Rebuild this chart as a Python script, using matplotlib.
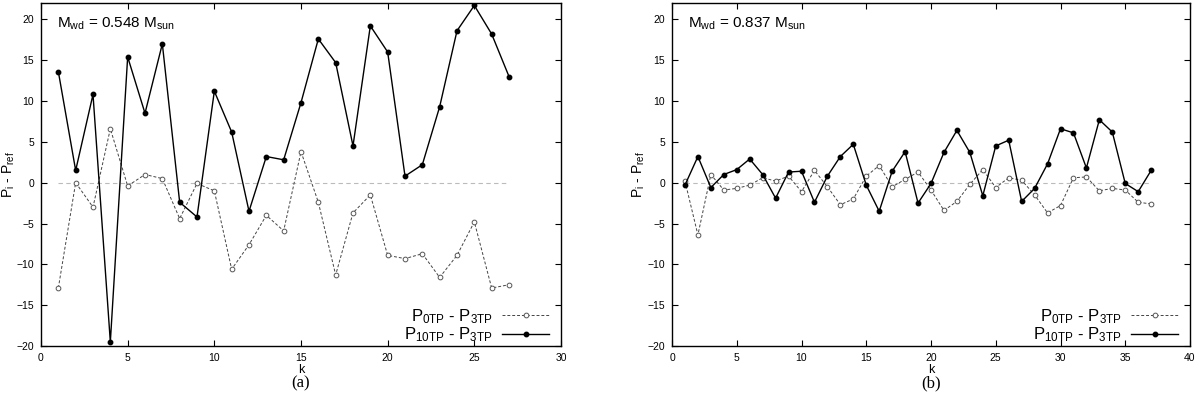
import matplotlib
matplotlib.use("Agg")
import matplotlib.pyplot as plt

plt.rcParams['font.family'] = ['Liberation Sans', 'DejaVu Sans']
plt.rcParams['mathtext.fontset'] = 'custom'
plt.rcParams['mathtext.rm'] = 'Liberation Sans'
plt.rcParams['mathtext.it'] = 'Liberation Sans'
plt.rcParams['mathtext.default'] = 'rm'

# ---- data: panel (a), M_wd = 0.548 M_sun ----
k_a = list(range(1, 28))
p10_a = [13.6, 1.5, 10.8, -19.5, 15.4, 8.5, 17.0, -2.4, -4.2, 11.2,
         6.2, -3.5, 3.2, 2.8, 9.8, 17.6, 14.7, 4.5, 19.2, 16.0,
         0.8, 2.2, 9.3, 18.6, 21.7, 18.2, 13.0]
p0_a = [-12.9, 0.0, -3.0, 6.6, -0.4, 1.0, 0.5, -4.4, -0.1, -1.0,
        -10.6, -7.6, -4.0, -5.9, 3.8, -2.4, -11.3, -3.7, -1.5, -8.9,
        -9.3, -8.7, -11.6, -8.9, -4.8, -12.9, -12.5]

# ---- data: panel (b), M_wd = 0.837 M_sun ----
k_b = list(range(1, 38))
p10_b = [-0.3, 3.2, -0.6, 1.0, 1.6, 2.9, 1.0, -1.9, 1.3, 1.4,
         -2.4, 0.8, 3.2, 4.7, -0.3, -3.5, 1.4, 3.8, -2.5, -0.1,
         3.7, 6.4, 3.7, -1.6, 4.5, 5.2, -2.3, -0.7, 2.3, 6.6,
         6.1, 1.8, 7.7, 6.2, -0.1, -1.1, 1.5]
p0_b = [0.2, -6.4, 1.0, -0.9, -0.7, -0.3, 0.6, 0.2, 0.8, -1.1,
        1.5, -0.5, -2.7, -2.0, 0.8, 2.1, -0.5, 0.4, 1.3, -0.9,
        -3.4, -2.3, -0.2, 1.6, -0.6, 0.6, 0.3, -1.5, -3.7, -2.8,
        0.6, 0.7, -1.0, -0.7, -0.9, -2.4, -2.6]

labels_mass = ['0.548', '0.837']
panel_tags = ['(a)', '(b)']
xlims = [(0, 30), (0, 40)]
xticks = [list(range(0, 31, 5)), list(range(0, 41, 5))]
ylim = (-20, 22)
yticks = list(range(-20, 21, 5))

fig = plt.figure(figsize=(12, 3.96), dpi=100)
W, H = 1200, 396
axes_px = [(41, 561), (672, 1190)]
ylabel_px = [17, 647]
top_px, bot_px = 3, 346

datasets = [(k_a, p0_a, p10_a), (k_b, p0_b, p10_b)]

for i, ((x0, x1), (kk, p0, p10)) in enumerate(zip(axes_px, datasets)):
    ax = fig.add_axes([x0 / W, 1 - bot_px / H, (x1 - x0) / W, (bot_px - top_px) / H])
    ax.plot([kk[0], kk[-1]], [0, 0], color='#bbbbbb', lw=0.8,
            dashes=(4, 3), zorder=1)
    ax.plot(kk, p0, color='#444444', lw=0.7, dashes=(3, 2),
            marker='o', ms=3.4, mfc='white', mec='#555555', mew=0.7,
            label=r'P$_{0TP}$ - P$_{3TP}$', zorder=2)
    ax.plot(kk, p10, color='black', lw=1.0, marker='o', ms=3.2,
            mfc='black', mec='black', label=r'P$_{10TP}$ - P$_{3TP}$', zorder=3)
    ax.set_xlim(*xlims[i])
    ax.set_ylim(*ylim)
    ax.set_xticks(xticks[i])
    ax.set_yticks(yticks)
    ax.tick_params(direction='in', top=True, right=True, labelsize=7.5,
                   length=4, width=0.8, pad=5)
    for s in ax.spines.values():
        s.set_linewidth(1.0)
    ax.set_xlabel('k', fontsize=9, labelpad=1)
    ax.set_ylabel(r'P$_{i}$ - P$_{ref}$', fontsize=10)
    ax.yaxis.set_label_coords((ylabel_px[i] - x0) / (x1 - x0), 0.5)
    ax.text(0.03, 0.94, r'M$_{wd}$ = %s M$_{sun}$' % labels_mass[i],
            transform=ax.transAxes, fontsize=11, ha='left', va='center')
    leg = ax.legend(loc='lower right', frameon=False, markerfirst=False,
                    fontsize=12, handlelength=2.8, handletextpad=0.6,
                    labelspacing=0.0, borderaxespad=0.0,
                    bbox_to_anchor=(0.99, -0.015))
    for t in leg.get_texts():
        t.set_ha('right')
    fig.text((x0 + x1) / 2 / W, 1 - 383 / H, panel_tags[i],
             fontsize=12, ha='center', va='center', family='Liberation Serif')

fig.savefig('out.png', dpi=100)
